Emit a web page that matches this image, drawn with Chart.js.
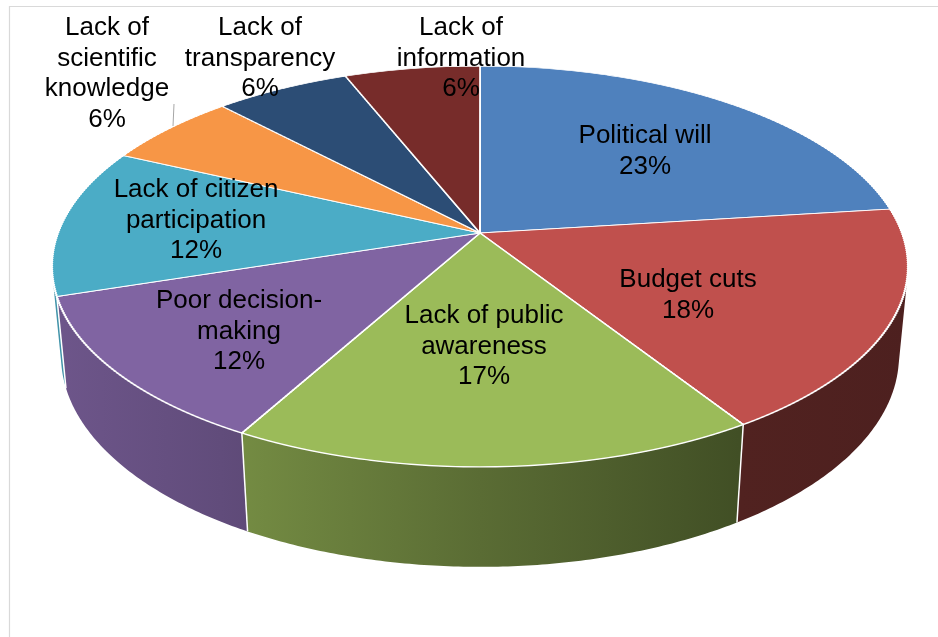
<!DOCTYPE html>
<html>
<head>
<meta charset="utf-8">
<script src="https://cdn.jsdelivr.net/npm/chart.js@4.4.1/dist/chart.umd.min.js"></script>
<style>
  html, body { margin: 0; padding: 0; background: #fff; }
  #wrap { width: 938px; height: 637px; }
</style>
</head>
<body>
<div id="wrap"><canvas id="pieChart" width="938" height="637"></canvas></div>
<script>
const categories = ['Political will', 'Budget cuts', 'Lack of public awareness', 'Poor decision-making',
  'Lack of citizen participation', 'Lack of scientific knowledge', 'Lack of transparency', 'Lack of information'];
const shares = [23, 18, 17, 12, 12, 6, 6, 6];
const colors = ['#4F81BD', '#C0504D', '#9BBB59', '#8064A2', '#4BACC6', '#F79646', '#2C4D75', '#772C2A'];

// wrapped category text, the percentage line is appended from shares
const labelLines = [
  ['Political will'],
  ['Budget cuts'],
  ['Lack of public', 'awareness'],
  ['Poor decision-', 'making'],
  ['Lack of citizen', 'participation'],
  ['Lack of', 'scientific', 'knowledge'],
  ['Lack of', 'transparency'],
  ['Lack of', 'information']
];
// centre x and first baseline of each label block
const labelAnchors = [[645, 143], [688, 287], [484, 323], [239, 308], [196, 197], [107, 35], [260, 35], [461, 35]];

// camera for the tilted disc: apex of the pie on screen, tilt, focal length, disc radius and thickness
const view = { cx: 480, cy: 233, tilt: 27.5 * Math.PI / 180, focal: 2241, radius: 0.1883, thickness: 0.0454 };

function project(u, v, h) {
  const s = Math.sin(view.tilt), c = Math.cos(view.tilt);
  const xw = view.radius * u, zw = view.radius * v, yw = -h;
  const yc = yw * c + zw * s;
  const zc = 1 + zw * c - yw * s;
  return { x: view.cx + view.focal * xw / zc, y: view.cy - view.focal * yc / zc };
}

function shade(hex, f) {
  const n = parseInt(hex.slice(1), 16);
  return 'rgb(' + Math.round((n >> 16 & 255) * f) + ',' + Math.round((n >> 8 & 255) * f) + ',' + Math.round((n & 255) * f) + ')';
}

function drawWalls(ctx, arcs) {
  // the side is visible where its normal faces the camera
  const edge = Math.acos(-view.radius / Math.cos(view.tilt));
  const from = edge - Math.PI / 2;
  const to = 1.5 * Math.PI - edge;
  const left = project(-1, 0, 0).x - 10, right = project(1, 0, 0).x + 10;
  const H = view.thickness;

  arcs.forEach((arc, i) => {
    const a1 = Math.max(arc.startAngle, from);
    const a2 = Math.min(arc.endAngle, to);
    if (a2 <= a1) return;
    const n = Math.max(4, Math.ceil((a2 - a1) / 0.01));
    ctx.beginPath();
    for (let j = 0; j <= n; j++) {
      const a = a1 + (a2 - a1) * j / n;
      const p = project(Math.cos(a), -Math.sin(a), 0);
      j === 0 ? ctx.moveTo(p.x, p.y) : ctx.lineTo(p.x, p.y);
    }
    for (let j = n; j >= 0; j--) {
      const a = a1 + (a2 - a1) * j / n;
      const p = project(Math.cos(a), -Math.sin(a), H);
      ctx.lineTo(p.x, p.y);
    }
    ctx.closePath();
    const g = ctx.createLinearGradient(left, 0, right, 0);
    g.addColorStop(0, shade(colors[i], 0.86));
    g.addColorStop(0.2, shade(colors[i], 0.76));
    g.addColorStop(0.5, shade(colors[i], 0.58));
    g.addColorStop(0.8, shade(colors[i], 0.42));
    g.addColorStop(1, shade(colors[i], 0.40));
    ctx.fillStyle = g;
    ctx.fill();
  });

  // seams between neighbouring walls
  ctx.strokeStyle = '#ffffff';
  ctx.lineWidth = 1.5;
  arcs.forEach(arc => {
    const a = arc.endAngle;
    if (a <= from || a >= to) return;
    const p = project(Math.cos(a), -Math.sin(a), 0);
    const q = project(Math.cos(a), -Math.sin(a), H);
    ctx.beginPath();
    ctx.moveTo(p.x, p.y);
    ctx.lineTo(q.x, q.y);
    ctx.stroke();
  });
}

const pie3d = {
  id: 'pie3d',
  beforeDraw(chart) {
    const ctx = chart.ctx;
    ctx.save();
    ctx.strokeStyle = '#d9d9d9';
    ctx.lineWidth = 1.2;
    ctx.beginPath();
    ctx.moveTo(9.5, chart.height);
    ctx.lineTo(9.5, 6.5);
    ctx.lineTo(chart.width, 6.5);
    ctx.stroke();
    ctx.restore();
  },
  beforeDatasetsDraw(chart) {
    const ctx = chart.ctx;
    const meta = chart.getDatasetMeta(0);
    const arcs = meta.data;
    const ccx = arcs[0].x, ccy = arcs[0].y, rc = arcs[0].outerRadius;

    ctx.save();
    drawWalls(ctx, arcs);
    ctx.restore();

    // top face: the pie is redrawn in thin horizontal bands, each band
    // with its own scale so the disc gets the camera's perspective
    const s = Math.sin(view.tilt), c = Math.cos(view.tilt);
    const fr = view.focal * view.radius, frs = fr * s, k = view.radius * c;
    const top = Math.floor(project(0, 1, 0).y) - 3;
    const bottom = Math.ceil(project(0, -1, 0).y) + 3;
    const band = 2;
    for (let y0 = top; y0 < bottom; y0 += band) {
      const ym = y0 + band / 2;
      const w = (view.cy - ym) / frs;
      const v = w / (1 - k * w);
      const q = 1 + k * v;
      const sx = fr / q, sy = frs / (q * q);
      ctx.save();
      ctx.beginPath();
      ctx.rect(0, y0, chart.width, band);
      ctx.clip();
      ctx.transform(sx / rc, 0, 0, sy / rc, view.cx - sx * ccx / rc, ym + sy * v - sy * ccy / rc);
      meta.controller.draw();
      ctx.restore();
    }
    return false;
  },
  afterDraw(chart) {
    const ctx = chart.ctx;
    const total = shares.reduce((a, b) => a + b, 0);
    ctx.save();

    // leader line of the small orange slice
    ctx.strokeStyle = '#a6a6a6';
    ctx.lineWidth = 1;
    ctx.beginPath();
    ctx.moveTo(174, 104);
    ctx.lineTo(173, 126);
    ctx.stroke();

    ctx.fillStyle = '#000000';
    ctx.font = '26px "Liberation Sans", Arial, sans-serif';
    ctx.textAlign = 'center';
    ctx.textBaseline = 'alphabetic';
    labelLines.forEach((lines, i) => {
      const text = lines.concat(Math.round(shares[i] / total * 100) + '%');
      const [x, y] = labelAnchors[i];
      text.forEach((t, j) => ctx.fillText(t, x, y + j * 30.6));
    });
    ctx.restore();
  }
};

new Chart(document.getElementById('pieChart'), {
  type: 'pie',
  data: {
    labels: categories,
    datasets: [{
      data: shares,
      backgroundColor: colors,
      borderColor: '#ffffff',
      borderWidth: 1.5
    }]
  },
  options: {
    responsive: false,
    animation: false,
    events: [],
    plugins: {
      legend: { display: false },
      tooltip: { enabled: false }
    }
  },
  plugins: [pie3d]
});
</script>
</body>
</html>
